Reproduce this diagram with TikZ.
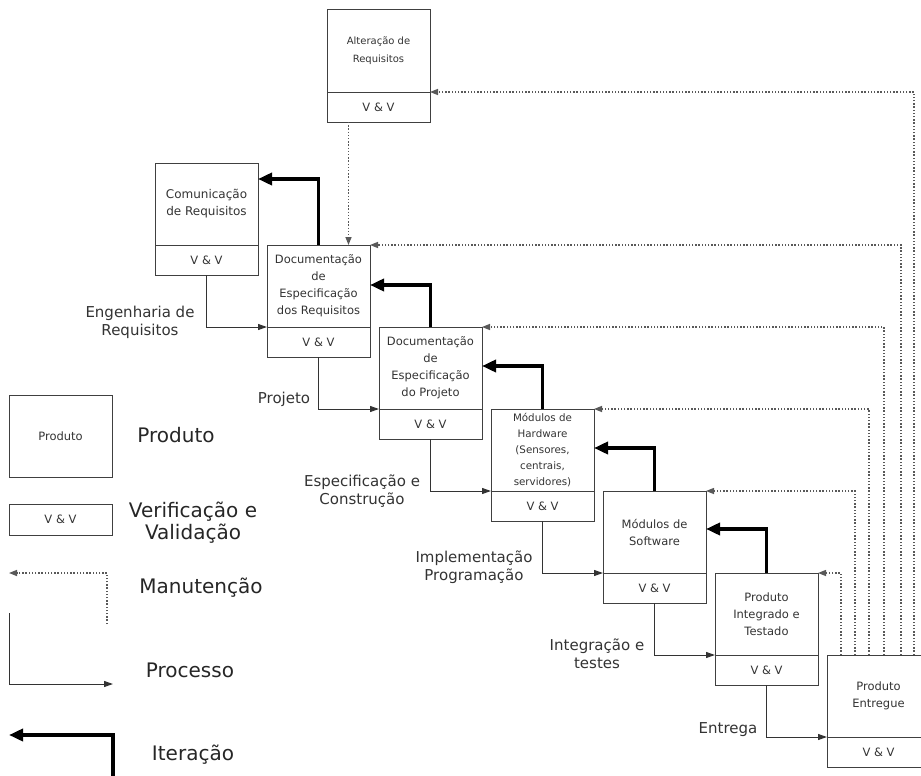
\documentclass[tikz,border=0pt]{standalone}
\usepackage{fontspec}
\setmainfont{DejaVu Sans}
\usetikzlibrary{positioning,arrows.meta}

\begin{document}
\begin{tikzpicture}[x=1pt,y=-1pt]
  % Settings
  \tikzset{
    prod/.style={draw=black!75, line width=1pt, minimum width=103pt, minimum height=82pt, inner sep=2pt, outer sep=0pt, align=center, text=black!80, font=\fontsize{11.5}{17}\selectfont},
    vv/.style={prod, minimum height=30pt},
    lbl/.style={align=center, text=black!80, font=\fontsize{15}{18}\selectfont},
    leg/.style={align=center, text=black!85, font=\fontsize{20}{22}\selectfont},
    proc/.style={draw=black!80, line width=1pt, -{Triangle[length=9pt, width=6pt]}},
    maint/.style={draw=black!65, line width=1.4pt, dash pattern=on 1.4pt off 1.8pt, -{Triangle[length=8pt, width=6pt]}},
    iter/.style={draw=black, line width=3.5pt, -{Triangle[length=14pt, width=12pt]}},
  }
  \path[use as bounding box, clip] (0,0) rectangle (921,776);

  % Stages
  \node[prod, anchor=north west, font=\fontsize{10}{18}\selectfont] (alt) at (327,10) {Alteração de\\Requisitos};
  \node[vv, below=0pt of alt] (altvv) {V \& V};

  \node[prod, anchor=north west, font=\fontsize{12}{17}\selectfont] (com) at (155,163) {Comunicação\\de Requisitos};
  \node[vv, below=0pt of com] (comvv) {V \& V};

  \node[prod, below right=0pt and 9pt of comvv.north east] (req) {Documentação\\de\\Especificação\\dos Requisitos};
  \node[vv, below=0pt of req] (reqvv) {V \& V};

  \node[prod, below right=0pt and 9pt of reqvv.north east] (proj) {Documentação\\de\\Especificação\\do Projeto};
  \node[vv, below=0pt of proj] (projvv) {V \& V};

  \node[prod, below right=0pt and 9pt of projvv.north east, font=\fontsize{10.3}{16}\selectfont] (hw) {Módulos de\\Hardware\\(Sensores,\\centrais,\\servidores)};
  \node[vv, below=0pt of hw] (hwvv) {V \& V};

  \node[prod, below right=0pt and 9pt of hwvv.north east] (sw) {Módulos de\\Software};
  \node[vv, below=0pt of sw] (swvv) {V \& V};

  \node[prod, below right=0pt and 9pt of swvv.north east] (integ) {Produto\\Integrado e\\Testado};
  \node[vv, below=0pt of integ] (integvv) {V \& V};

  \node[prod, below right=0pt and 9pt of integvv.north east] (entr) {Produto\\Entregue};
  \node[vv, below=0pt of entr] (entrvv) {V \& V};

  % Process
  \draw[proc] (comvv.south) |- (req.south west);
  \draw[proc] (reqvv.south) |- (proj.south west);
  \draw[proc] (projvv.south) |- (hw.south west);
  \draw[proc] (hwvv.south) |- (sw.south west);
  \draw[proc] (swvv.south) |- (integ.south west);
  \draw[proc] (integvv.south) |- (entr.south west);

  \node[lbl] (engreq) at (140,322) {Engenharia de\\Requisitos};
  \node[lbl] (projeto) at (284,399) {Projeto};
  \node[lbl] (espcon) at (362,491) {Especificação e\\Construção};
  \node[lbl] (implprog) at (474,567) {Implementação\\Programação};
  \node[lbl] (inttest) at (597,654) {Integração e\\testes};
  \node[lbl] (entrega) at (728,730) {Entrega};

  % Iterations
  \draw[iter] (req.north) |- ([yshift=-16pt]com.north east);
  \draw[iter] (proj.north) |- ([yshift=-40pt]req.north east);
  \draw[iter] (hw.north) |- ([yshift=-39pt]proj.north east);
  \draw[iter] (sw.north) |- ([yshift=-39pt]hw.north east);
  \draw[iter] (integ.north) |- ([yshift=-38pt]sw.north east);

  % Maintenance
  \draw[maint] ([xshift=-30pt]altvv.south) -- ([xshift=-30pt]altvv.south |- req.north);
  \draw[maint] ([xshift=14pt]entr.north west) |- (integ.north east);
  \draw[maint] ([xshift=28pt]entr.north west) |- (sw.north east);
  \draw[maint] ([xshift=42pt]entr.north west) |- (hw.north east);
  \draw[maint] ([xshift=57pt]entr.north west) |- (proj.north east);
  \draw[maint] ([xshift=74pt]entr.north west) |- (req.north east);
  \draw[maint] ([xshift=87pt]entr.north west) |- (altvv.north east);

  % Legend
  \node[prod] (legprod) at (60.5,436) {Produto};
  \node[vv, minimum height=31pt] (legvv) at (60.5,519.5) {V \& V};
  \node[leg] (legprodtxt) at (176,435) {Produto};
  \node[leg] (legvvtxt) at (193,523) {Verificação e\\Validação};

  \coordinate (m0) at (107,624);
  \coordinate (m1) at (9,573);
  \draw[maint] (m0) |- (m1);
  \node[leg] (legmaint) at (201,588) {Manutenção};

  \coordinate (p0) at (9,613);
  \coordinate (p1) at (113,684);
  \draw[proc] (p0) |- (p1);
  \node[leg] (legproc) at (190,670) {Processo};

  \coordinate (i0) at (113,780);
  \coordinate (i1) at (9,735);
  \draw[iter] (i0) |- (i1);
  \node[leg] (legiter) at (193,755) {Iteração};

\end{tikzpicture}
\end{document}
